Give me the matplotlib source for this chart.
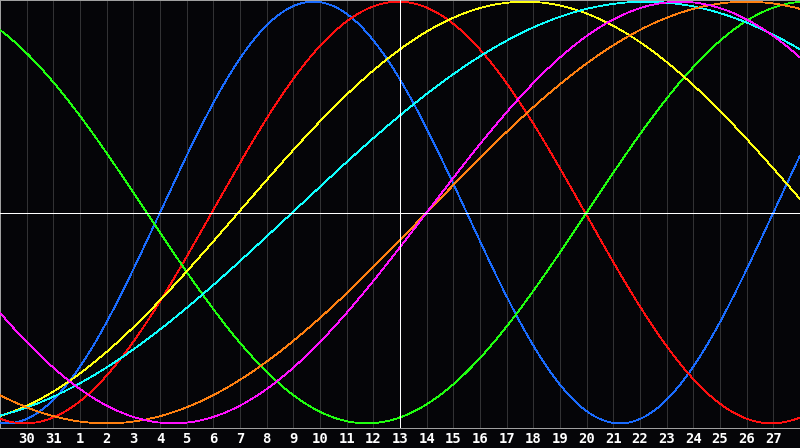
import numpy as np
import matplotlib
matplotlib.use("Agg")
import matplotlib.pyplot as plt

# day labels under the grid lines (grid line 1 .. 29)
day_labels = ["30", "31"] + [str(d) for d in range(1, 28)]
today_index = 15  # the "13" column, marked in white

# cycles: period in days and the day (in grid units) where the curve crosses zero going up
cycle_names = ["physical", "emotional", "intellectual", "intuitive",
               "aesthetic", "awareness", "spiritual"]
cycle_periods = [23, 28, 33, 43, 53, 48, 38]
cycle_zero_day = [6.0, 7.94, 22.0, 8.94, 10.96, 16.0, 16.0]
cycle_colors = ["#1a6cff", "#ff1010", "#20ff10", "#ffff10",
                "#10ffff", "#ff8010", "#ff10ff"]

BG = "#050508"
GRID = "#323234"
BORDER = "#a0a0a0"
PX = 0.72  # one pixel in points at dpi 100

fig = plt.figure(figsize=(8, 4.48), dpi=100, facecolor=BG)
ax = fig.add_axes([0, 20 / 448, 1, 428 / 448], facecolor=BG)

x_max = 30
ax.set_xlim(0, x_max)
ax.set_ylim(-1.022, 1.008)

t = np.linspace(0, x_max, 1600)
for period, zero, color in zip(cycle_periods, cycle_zero_day, cycle_colors):
    ax.plot(t, np.sin(2 * np.pi * (t - zero) / period), color=color,
            lw=0.55, antialiased=False, zorder=3)

ticks = np.arange(1, len(day_labels) + 1)
for k in ticks:
    ax.axvline(k, color=GRID, lw=PX, zorder=1, antialiased=False)
ax.axvline(today_index, color="white", lw=PX, zorder=4, antialiased=False)
ax.axhline(0, color="white", lw=PX, zorder=4, antialiased=False)

ax.set_xticks(ticks)
ax.set_xticklabels(day_labels, color="white", fontsize=10,
                   fontweight="bold", family="DejaVu Sans Mono")
ax.tick_params(axis="x", length=0, pad=3)
ax.set_yticks([])

for side in ax.spines.values():
    side.set_color(BORDER)
    side.set_linewidth(PX)

fig.savefig("out.png", dpi=100, facecolor=BG)
